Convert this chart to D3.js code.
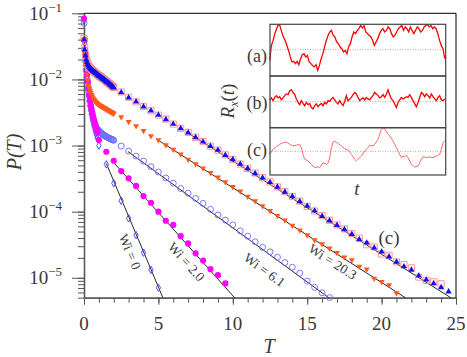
<!DOCTYPE html>
<html>
<head>
<meta charset="utf-8">
<script src="https://cdn.jsdelivr.net/npm/d3@7"></script>
<style>
body { margin: 0; background: #fff; }
</style>
</head>
<body>
<svg id="chart"></svg>
<script>
// time grids (T)
const tDense = [0,0.05,0.1,0.15,0.2,0.25,0.3,0.35,0.4,0.45,0.5,0.55,0.6,0.65,0.7,0.75,0.8,0.85,0.9,0.95,
    1,1.05,1.1,1.15,1.2,1.25,1.3,1.35,1.4,1.45,1.5,1.55,1.6,1.65,1.7,1.75,1.8,1.85,1.9,1.95,2];
const tHalf = [1,1.5,2,2.5,3,3.5,4,4.5,5,5.5,6,6.5,7,7.5,8,8.5,9,9.5,10,10.5,11,11.5,12,12.5,
    13,13.5,14,14.5,15,15.5,16,16.5,17,17.5,18,18.5,19,19.5,20,20.5,21,21.5,22,22.5,23,23.5,24,24.5];

// log10 P(T)
const sqDense = [-1.38,-1.52,-1.62,-1.69,-1.73,-1.76,-1.785,-1.805,-1.82,-1.835,-1.848,-1.858,-1.868,-1.878,-1.888,-1.895,-1.905,-1.915,-1.925,-1.933,
    -1.943,-1.95,-1.958,-1.968,-1.975,-1.985,-1.993,-2.0,-2.01,-2.018,-2.028,-2.038,-2.045,-2.055,-2.063,-2.073,-2.083,-2.093,-2.103,-2.113,-2.122];
const sqSparse = [-2.19,-2.27,-2.34,-2.41,-2.475,-2.54,-2.60,-2.675,-2.74,-2.80,-2.875,-2.94,-3.01,-3.07,-3.14,-3.21,-3.28,-3.345,-3.415,-3.485,
    -3.55,-3.625,-3.695,-3.77,-3.84,-3.92,-3.99,-4.06,-4.13,-4.20,-4.26,-4.33,-4.40,-4.50,-4.535,-4.64,-4.66,-4.76,-4.80,-4.85,-4.99,-5.04,-5.06,-5.09];

const triDense = [-1.40,-1.55,-1.64,-1.70,-1.74,-1.77,-1.79,-1.81,-1.825,-1.84,-1.85,-1.86,-1.87,-1.88,-1.89,-1.895,-1.905,-1.915,-1.925,-1.935,
    -1.945,-1.95,-1.96,-1.97,-1.975,-1.985,-1.995,-2.0,-2.01,-2.02,-2.03,-2.04,-2.045,-2.055,-2.065,-2.075,-2.085,-2.095,-2.105,-2.115,-2.125];
const triSparse = [-2.195,-2.277,-2.337,-2.413,-2.473,-2.539,-2.604,-2.675,-2.74,-2.806,-2.876,-2.943,-3.008,-3.068,-3.144,-3.209,-3.28,-3.345,-3.42,-3.487,
    -3.555,-3.625,-3.70,-3.77,-3.845,-3.915,-3.986,-4.067,-4.137,-4.203,-4.268,-4.339,-4.42,-4.47,-4.546,-4.607,-4.68,-4.76,-4.83,-4.88,
    -4.97,-5.03,-5.085,-5.145,-5.21];

const wi20Dense = [-1.40,-1.58,-1.70,-1.82,-1.92,-2.01,-2.08,-2.13,-2.17,-2.20,-2.23,-2.255,-2.28,-2.30,-2.315,-2.33,-2.345,-2.355,-2.365,-2.375,
    -2.383,-2.39,-2.397,-2.404,-2.41,-2.417,-2.424,-2.43,-2.437,-2.444,-2.45,-2.457,-2.464,-2.47,-2.477,-2.484,-2.49,-2.497,-2.503,-2.51,-2.515];
const wi20Sparse = [-2.57,-2.64,-2.705,-2.776,-2.856,-2.917,-2.99,-3.06,-3.13,-3.21,-3.28,-3.345,-3.41,-3.48,-3.55,-3.625,-3.69,-3.77,-3.84,-3.915,
    -3.985,-4.06,-4.13,-4.21,-4.28,-4.354,-4.43,-4.49,-4.555,-4.62,-4.69,-4.73,-4.83,-4.87,-5.01,-5.06,-5.11,-5.23];

const wi6Dense = [-1.15,-1.55,-1.72,-1.86,-1.97,-2.07,-2.16,-2.25,-2.33,-2.40,-2.46,-2.52,-2.57,-2.62,-2.66,-2.69,-2.72,-2.74,-2.755,-2.765,
    -2.775,-2.79,-2.80,-2.81,-2.82,-2.83,-2.838,-2.845,-2.852,-2.86,-2.866,-2.872,-2.878,-2.884,-2.89,-2.895,-2.90,-2.905,-2.91,-2.915,-2.92];
const wi6Sparse = [-3.008,-3.083,-3.16,-3.235,-3.32,-3.40,-3.49,-3.57,-3.65,-3.72,-3.80,-3.875,-3.965,-4.05,-4.127,-4.20,-4.29,-4.37,-4.455,-4.54,
    -4.607,-4.69,-4.77,-4.84,-4.93,-5.05,-5.145,-5.227,-5.30];

const wi2Dense = [-1.08,-1.40,-1.62,-1.78,-1.92,-2.03,-2.14,-2.24,-2.32,-2.39,-2.45,-2.50,-2.55,-2.60,-2.64,-2.68,-2.72,-2.76,-2.80];
const wi2Sparse = [-2.917,-3.094,-3.23,-3.386,-3.496,-3.61,-3.764,-3.865,-4.0,-4.137,-4.2,-4.37,-4.48,-4.63,-4.74,-4.87,-4.96,-5.085];

const wi0Dense = [-1.10,-1.45,-1.68,-1.85,-1.99,-2.11,-2.22,-2.32,-2.40,-2.47,-2.53,-2.59,-2.64,-2.69,-2.73,-2.77,-2.81,-2.85,-2.89];
const wi0Sparse = [-3.0,-3.285,-3.57,-3.835,-4.1,-4.354,-4.62,-4.88,-5.15];

// exponential fits: start/end T and log10 P
const fitT0 = [1.5, 1.85, 2.95, 4.85, 6.85];
const fitL0 = [-3.27, -3.22, -3.09, -2.90, -2.79];
const fitT1 = [5.3, 10.12, 16.45, 21.6, 24.65];
const fitL1 = [-5.301, -5.301, -5.301, -5.301, -5.301];
const fitLabels = ['Wi = 0', 'Wi = 2.0', 'Wi = 6.1', 'Wi = 20.3'];
const fitLabelAt = [[3.08, -4.607], [6.88, -4.758], [12.13, -4.883], [16.71, -4.758]];

const xTickLabels = [0, 5, 10, 15, 20, 25];
const yTickExps = [-1, -2, -3, -4, -5];

// inset traces R_x(t), arbitrary units
const insetA = [-0.43,0.17,0.37,0.64,0.84,1.0,0.95,0.71,0.51,0.37,0.17,-0.03,-0.29,-0.49,-0.47,-0.56,-0.47,-0.6,-0.36,-0.2,
    -0.16,-0.29,-0.23,-0.49,-0.56,-0.63,-0.69,-0.6,-0.83,-0.63,-0.36,-0.16,0.11,0.37,0.57,0.71,0.77,0.57,0.51,0.31,
    0.24,0.11,0.04,-0.09,-0.03,-0.16,0.11,0.24,0.51,0.71,0.64,0.77,0.84,0.97,0.87,0.95,0.71,0.64,0.57,0.51,
    0.37,0.17,0.31,0.44,0.64,0.77,0.84,0.71,0.77,0.91,0.84,0.64,0.51,0.57,0.71,0.84,0.91,0.97,0.77,0.91,
    0.84,0.71,0.91,0.77,0.64,0.77,0.91,0.84,0.71,0.77,0.91,0.97,1.0,0.91,0.97,0.84,0.91,0.84,0.64,0.37,0.17,0.04,-0.36];
const insetB = [0.07,0.15,0.04,0.17,0.24,0.15,0.2,0.07,0.15,0.24,0.31,0.28,0.44,0.47,0.37,0.28,0.11,-0.03,-0.12,0.04,
    -0.07,-0.16,-0.03,-0.12,-0.07,-0.23,-0.29,-0.16,-0.09,-0.2,-0.12,-0.07,-0.16,-0.03,-0.09,0.04,0.01,0.11,0.17,0.07,
    -0.03,-0.09,0.04,-0.07,-0.16,0.01,0.24,0.04,0.11,0.17,0.28,0.37,0.31,0.17,0.04,0.11,0.15,0.07,0.17,0.11,
    0.07,0.17,0.24,0.37,0.31,0.24,0.15,0.2,0.28,0.17,0.31,0.47,0.28,0.11,0.04,-0.09,-0.23,-0.03,0.07,0.17,
    0.11,0.15,0.2,0.17,0.28,0.17,0.04,-0.09,-0.2,-0.03,0.17,0.37,0.31,0.2,0.31,0.24,0.15,0.31,0.2,0.11,
    0.04,0.17,0.24,0.07,0.04,0.11];
const insetCt = [1,3,5,7,9,11,13,15,17,19,20,21,22,24,26,28,30,31,33,35,36,37,38,39,40,42,44,46,48,50,52,53,54,56,58,60,61,63,64,66,
    67,68,69,70,71,73,75,77,79,80,81,82,83,84,86,88,90,92,93,95,97,99,101,103,104,105,106];
const insetC = [-0.13,0.09,0.2,0.3,0.37,0.4,0.3,0.23,0.26,0.3,0.16,-0.13,-0.34,-0.41,-0.56,-0.7,-0.66,-0.7,-0.49,-0.56,
    -0.51,-0.27,0.16,0.4,0.44,0.34,0.23,0.11,0.06,-0.13,-0.34,-0.41,-0.34,-0.2,0.01,0.16,0.26,0.23,0.3,0.51,
    0.73,0.94,1.01,0.97,0.83,0.66,0.44,0.16,-0.13,-0.27,-0.2,-0.23,-0.17,-0.27,-0.56,-0.67,-0.63,-0.34,-0.23,-0.27,
    -0.24,-0.27,-0.2,-0.13,0.09,0.37,0.44];
const insetNames = ['(a)', '(b)', '(c)'];

const width = 467;
const height = 357;
const plotLeft = 84, plotRight = 456, plotTop = 13.3, plotBottom = 297.7;
const serif = 'Liberation Serif';
const ink = '#3a3a3a';

let svg = d3.select('#chart').attr('width', width).attr('height', height);

let xScale = d3.scaleLinear().domain([0, 25]).range([plotLeft, plotRight]);
let yScale = d3.scaleLog().domain([5e-6, 0.1]).range([plotBottom, plotTop]);

function buildPoints (dense, sparseStart, sparse) {
    let pts = dense.map((v, i) => ({T: tDense[i], P: Math.pow(10, v)}));
    let ts = tHalf.filter(t => t >= sparseStart);
    sparse.forEach((v, i) => pts.push({T: ts[i], P: Math.pow(10, v)}));
    return pts;
}

function drawSeries (pts, type, size, fill, stroke, flip) {
    svg.append('g')
        .selectAll('path')
        .data(pts)
        .enter()
        .append('path')
        .attr('d', d3.symbol().type(type).size(size))
        .attr('transform', d => 'translate(' + xScale(d.T) + ',' + yScale(d.P) + ')' + (flip ? ' rotate(180)' : ''))
        .attr('fill', fill)
        .attr('stroke', stroke)
        .attr('stroke-width', stroke === 'none' ? 0 : 0.9);
}

function addText (x, y, size, str) {
    return svg.append('text').attr('x', x).attr('y', y)
        .style('font-family', serif).attr('font-size', size).attr('fill', ink)
        .attr('text-anchor', 'middle').text(str);
}

// axes
function drawAxes () {
    let xMinor = d3.axisBottom(xScale).tickValues(d3.range(0, 26)).tickSize(5).tickSizeOuter(0).tickFormat('');
    let xMajor = d3.axisBottom(xScale).tickValues(xTickLabels).tickSize(7).tickSizeOuter(0).tickFormat('');
    let yMinor = d3.axisLeft(yScale).tickValues(yScale.ticks()).tickSize(6).tickSizeOuter(0).tickFormat('');
    let yMajor = d3.axisLeft(yScale).tickValues(yTickExps.map(e => Math.pow(10, e))).tickSize(12).tickSizeOuter(0).tickFormat('');

    [xMinor, xMajor].forEach(a => {
        svg.append('g').attr('transform', 'translate(0,' + plotBottom + ')').attr('color', '#555').call(a);
    });
    [yMinor, yMajor].forEach(a => {
        svg.append('g').attr('transform', 'translate(' + plotLeft + ',0)').attr('color', '#555').call(a);
    });
    svg.selectAll('.domain').attr('stroke-width', 1.3);

    // frame top / right
    svg.append('line').attr('x1', plotLeft).attr('x2', plotRight).attr('y1', plotTop).attr('y2', plotTop)
        .attr('stroke', '#000').attr('stroke-width', 1);
    svg.append('line').attr('x1', plotRight).attr('x2', plotRight).attr('y1', plotTop).attr('y2', plotBottom)
        .attr('stroke', '#000').attr('stroke-width', 1);

    xTickLabels.forEach(d => addText(xScale(d), 330, 19, d));

    yTickExps.forEach(d => {
        let t = svg.append('text')
            .attr('x', 62).attr('y', yScale(Math.pow(10, d)) + 6.5)
            .style('font-family', serif).attr('text-anchor', 'end').attr('font-size', 19).attr('fill', ink);
        t.append('tspan').text('10');
        t.append('tspan').attr('font-size', 13).attr('dy', -8).text('\u2212' + (-d));
    });

    svg.append('text').attr('transform', 'translate(21,152) rotate(-90)')
        .style('font-family', serif).attr('text-anchor', 'middle').attr('font-size', 20)
        .attr('font-style', 'italic').attr('fill', ink)
        .text('P(T)');
    addText(269, 353, 20, 'T').attr('font-style', 'italic');
}

function drawFits () {
    fitT0.forEach((t0, i) => {
        svg.append('line')
            .attr('x1', xScale(t0)).attr('y1', yScale(Math.pow(10, fitL0[i])))
            .attr('x2', xScale(fitT1[i])).attr('y2', yScale(Math.pow(10, fitL1[i])))
            .attr('stroke', '#111').attr('stroke-width', 0.9);
    });
    fitLabels.forEach((lab, i) => {
        let dx = xScale(fitT1[i]) - xScale(fitT0[i]);
        let dy = yScale(Math.pow(10, fitL1[i])) - yScale(Math.pow(10, fitL0[i]));
        let ang = Math.atan2(dy, dx) * 180 / Math.PI;
        let cx = xScale(fitLabelAt[i][0]);
        let cy = yScale(Math.pow(10, fitLabelAt[i][1]));
        svg.append('text')
            .attr('transform', 'translate(' + cx + ',' + cy + ') rotate(' + ang + ')')
            .style('font-family', serif).attr('text-anchor', 'middle').attr('dominant-baseline', 'central')
            .attr('font-size', 13.5).attr('fill', ink)
            .text(lab);
    });
    addText(xScale(20.5), yScale(Math.pow(10, -4.40)) + 6, 19, '(c)');
}

function drawInset () {
    const ix0 = 270, ix1 = 445.7;
    const bands = [[24.3, 76], [76, 127.7], [127.7, 175]];
    const labelY = [61.5, 108.7, 155.5];

    svg.append('rect').attr('x', ix0).attr('y', bands[0][0]).attr('width', ix1 - ix0)
        .attr('height', bands[2][1] - bands[0][0]).attr('fill', '#fff');

    let yA = d3.scaleLinear().domain([-1, 1]).range([74.67, 24.67]);
    let yB = d3.scaleLinear().domain([-1, 1]).range([126.67, 76.67]);
    let yC = d3.scaleLinear().domain([-1, 1]).range([174.67, 128]);
    let xA = d3.scaleLinear().domain([0, insetA.length - 1]).range([269.7, 444.7]);
    let xB = d3.scaleLinear().domain([0, insetB.length - 1]).range([269.7, 444.7]);
    let xC = d3.scaleLinear().domain([1, 106]).range([269.7, 444.7]);

    [yA, yB, yC].forEach(ys => {
        svg.append('line').attr('x1', ix0).attr('x2', ix1).attr('y1', ys(0)).attr('y2', ys(0))
            .attr('stroke', '#999').attr('stroke-width', 0.8).attr('stroke-dasharray', '1,1.5');
    });

    svg.append('path').datum(insetA)
        .attr('d', d3.line().x((d, i) => xA(i)).y(d => yA(d)))
        .attr('fill', 'none').attr('stroke', '#ff0000').attr('stroke-width', 1.3);
    svg.append('path').datum(insetB)
        .attr('d', d3.line().x((d, i) => xB(i)).y(d => yB(d)))
        .attr('fill', 'none').attr('stroke', '#ff0000').attr('stroke-width', 1.3);
    svg.append('path').datum(insetC)
        .attr('d', d3.line().x((d, i) => xC(insetCt[i])).y(d => yC(d)))
        .attr('fill', 'none').attr('stroke', '#ff6a6a').attr('stroke-width', 1);

    bands.forEach(b => {
        svg.append('rect').attr('x', ix0).attr('y', b[0]).attr('width', ix1 - ix0).attr('height', b[1] - b[0])
            .attr('fill', 'none').attr('stroke', '#444').attr('stroke-width', 1.2);
    });

    insetNames.forEach((d, i) => addText(257, labelY[i], 18, d));

    let r = svg.append('text').attr('transform', 'translate(234,101) rotate(-90)')
        .style('font-family', serif).attr('text-anchor', 'middle').attr('font-size', 19).attr('fill', ink);
    r.append('tspan').attr('font-style', 'italic').text('R');
    r.append('tspan').attr('font-style', 'italic').attr('font-size', 12).attr('dy', 4).text('x');
    r.append('tspan').attr('dy', -4).text('(');
    r.append('tspan').attr('font-style', 'italic').text('t');
    r.append('tspan').text(')');

    addText(357, 195, 19, 't').attr('font-style', 'italic');
}

drawAxes();
drawFits();

drawSeries(buildPoints(wi0Dense, 1, wi0Sparse), d3.symbolDiamond, 16, 'none', '#3a3aff', false);
drawSeries(buildPoints(wi6Dense, 2.5, wi6Sparse), d3.symbolCircle, 28, 'none', '#6b6bff', false);
drawSeries(buildPoints(wi2Dense, 1, wi2Sparse), d3.symbolCircle, 30, '#ff00ff', 'none', false);
drawSeries(buildPoints(wi20Dense, 2.5, wi20Sparse), d3.symbolTriangle, 16, '#ff5a1a', 'none', true);
drawSeries(buildPoints(sqDense, 2.5, sqSparse), d3.symbolSquare, 38, 'none', '#ff8a8a', false);
drawSeries(buildPoints(triDense, 2.5, triSparse), d3.symbolTriangle, 17, '#1010ee', 'none', false);

drawInset();
</script>
</body>
</html>
